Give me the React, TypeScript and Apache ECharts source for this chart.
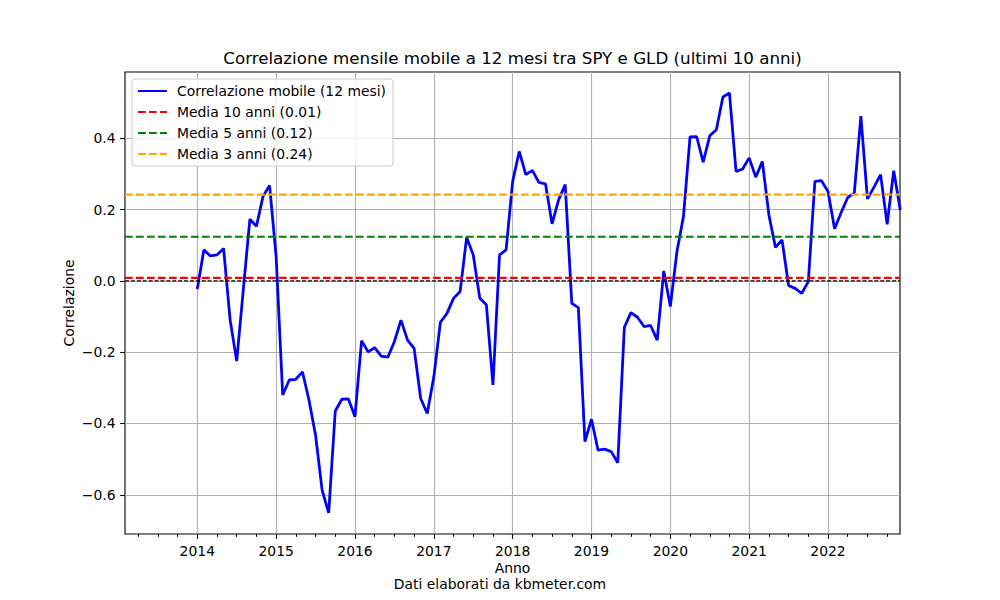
import React, { useEffect, useRef } from "react";
import * as echarts from "echarts";

const FONT = "DejaVu Sans";

// Rolling 12-month correlation SPY/GLD, monthly from 2014-01 (month index 0)
const START_YEAR = 2014;
const corr = [
  -0.023, 0.087, 0.070, 0.073, 0.091, -0.110, -0.225, -0.025, 0.173, 0.153, 0.237, 0.268,
  0.068, -0.320, -0.278, -0.276, -0.255, -0.334, -0.433, -0.587, -0.651, -0.365, -0.332, -0.331,
  -0.381, -0.168, -0.199, -0.187, -0.211, -0.214, -0.170, -0.110, -0.166, -0.189, -0.330, -0.372,
  -0.269, -0.116, -0.091, -0.049, -0.030, 0.122, 0.073, -0.049, -0.067, -0.292, 0.073, 0.087,
  0.279, 0.363, 0.298, 0.310, 0.276, 0.272, 0.160, 0.228, 0.270, -0.063, -0.075, -0.451,
  -0.388, -0.475, -0.472, -0.479, -0.510, -0.130, -0.089, -0.102, -0.128, -0.125, -0.166, 0.028,
  -0.072, 0.082, 0.181, 0.404, 0.405, 0.333, 0.407, 0.424, 0.516, 0.527, 0.307, 0.314,
  0.345, 0.291, 0.335, 0.185, 0.094, 0.115, -0.013, -0.021, -0.035, -0.002, 0.279, 0.281,
  0.251, 0.146, 0.192, 0.234, 0.246, 0.462, 0.230, 0.263, 0.298, 0.159, 0.309, 0.199,
];

const mean10 = 0.0085;
const mean5 = 0.124;
const mean3 = 0.242;

const seriesNames = [
  "Correlazione mobile (12 mesi)",
  "Media 10 anni (0.01)",
  "Media 5 anni (0.12)",
  "Media 3 anni (0.24)",
];

const yearTicks = [2014, 2015, 2016, 2017, 2018, 2019, 2020, 2021, 2022];
const quarterTicks = [
  2013.25, 2013.5, 2013.75,
  2014.25, 2014.5, 2014.75,
  2015.25, 2015.5, 2015.75,
  2016.25, 2016.5, 2016.75,
  2017.25, 2017.5, 2017.75,
  2018.25, 2018.5, 2018.75,
  2019.25, 2019.5, 2019.75,
  2020.25, 2020.5, 2020.75,
  2021.25, 2021.5, 2021.75,
  2022.25, 2022.5, 2022.75,
];
const yTicks = [-0.6, -0.4, -0.2, 0.0, 0.2, 0.4];

const X_MIN = 2013.083;
const X_MAX = 2022.913;
const Y_MIN = -0.71;
const Y_MAX = 0.586;

function fmtY(v: number): string {
  const s = Math.abs(v).toFixed(1);
  return v < -1e-9 ? "\u2212" + s : s;
}

export default function App() {
  const ref = useRef<HTMLDivElement>(null);

  useEffect(() => {
    if (!ref.current) return;
    const chart = echarts.init(ref.current, undefined, { renderer: "svg" });

    const lineData = corr.map((v, i) => [START_YEAR + i / 12, v]);
    const hline = (v: number) => [
      [X_MIN, v],
      [X_MAX, v],
    ];

    const tickLine = { color: "#000", width: 1.1 };
    const labelStyle = { color: "#000", fontSize: 13.9, fontFamily: FONT };

    const option: any = {
      animation: false,
      grid: {
        left: 125,
        top: 72,
        width: 775,
        height: 462,
        show: true,
        borderColor: "#000",
        borderWidth: 1.1,
        backgroundColor: "transparent",
      },
      legend: {
        data: seriesNames,
        orient: "vertical",
        left: 132,
        top: 79,
        itemWidth: 29,
        itemHeight: 14,
        itemGap: 7,
        padding: [5, 7, 5, 5],
        backgroundColor: "rgba(255,255,255,0.8)",
        borderColor: "#cccccc",
        borderWidth: 1,
        borderRadius: 3,
        itemStyle: { opacity: 0, borderWidth: 0 },
        textStyle: { color: "#000", fontSize: 13.9, fontFamily: FONT, padding: [0, 0, 0, 5] },
      },
      xAxis: [
        {
          type: "value",
          min: X_MIN,
          max: X_MAX,
          position: "bottom",
          axisLine: { show: false, onZero: false },
          axisTick: { show: true, length: 4.9, customValues: yearTicks, lineStyle: tickLine },
          axisLabel: {
            ...labelStyle,
            customValues: yearTicks,
            margin: 9.5,
            formatter: (v: number) => String(Math.round(v)),
          },
          splitLine: { show: true, lineStyle: { color: "#b0b0b0", width: 1.1 } },
        },
        {
          type: "value",
          min: X_MIN,
          max: X_MAX,
          position: "bottom",
          axisLine: { show: false, onZero: false },
          axisTick: { show: true, length: 2.8, customValues: quarterTicks, lineStyle: tickLine },
          axisLabel: { show: false },
          splitLine: { show: false },
        },
      ],
      yAxis: {
        type: "value",
        min: Y_MIN,
        max: Y_MAX,
        position: "left",
        axisLine: { show: false, onZero: false },
        axisTick: { show: true, length: 4.9, customValues: yTicks, lineStyle: tickLine },
        axisLabel: { ...labelStyle, customValues: yTicks, margin: 9.5, formatter: fmtY },
        splitLine: { show: true, lineStyle: { color: "#b0b0b0", width: 1.1 } },
      },
      series: [
        {
          name: seriesNames[0],
          type: "line",
          data: lineData,
          symbol: "none",
          lineStyle: { color: "#0000ff", width: 2.78 },
          itemStyle: { color: "#0000ff" },
          z: 3,
        },
        {
          name: "",
          type: "line",
          data: hline(0),
          symbol: "none",
          lineStyle: { color: "#000000", width: 1.1, type: [4.1, 1.8] },
          itemStyle: { color: "#000000" },
          z: 3,
        },
        {
          name: seriesNames[1],
          type: "line",
          data: hline(mean10),
          symbol: "none",
          lineStyle: { color: "#ff0000", width: 2.08, type: [7.7, 3.3] },
          itemStyle: { color: "#ff0000" },
          z: 3,
        },
        {
          name: seriesNames[2],
          type: "line",
          data: hline(mean5),
          symbol: "none",
          lineStyle: { color: "#008000", width: 2.08, type: [7.7, 3.3] },
          itemStyle: { color: "#008000" },
          z: 3,
        },
        {
          name: seriesNames[3],
          type: "line",
          data: hline(mean3),
          symbol: "none",
          lineStyle: { color: "#ffa500", width: 2.08, type: [7.7, 3.3] },
          itemStyle: { color: "#ffa500" },
          z: 3,
        },
      ],
      graphic: [
        {
          type: "text",
          x: 512.5,
          y: 58,
          style: {
            text: "Correlazione mensile mobile a 12 mesi tra SPY e GLD (ultimi 10 anni)",
            fill: "#000",
            font: `16.7px "${FONT}"`,
            textAlign: "center",
            textVerticalAlign: "middle",
          },
        },
        {
          type: "text",
          x: 512.5,
          y: 567.5,
          style: {
            text: "Anno",
            fill: "#000",
            font: `13.9px "${FONT}"`,
            lineHeight: 11,
            textAlign: "center",
            textVerticalAlign: "middle",
          },
        },
        {
          type: "text",
          x: 500,
          y: 583.5,
          style: {
            text: "Dati elaborati da kbmeter.com",
            fill: "#000",
            font: `13.9px "${FONT}"`,
            lineHeight: 11,
            textAlign: "center",
            textVerticalAlign: "middle",
          },
        },
        {
          type: "text",
          x: 68.5,
          y: 303,
          rotation: Math.PI / 2,
          style: {
            text: "Correlazione",
            fill: "#000",
            font: `13.9px "${FONT}"`,
            textAlign: "center",
            textVerticalAlign: "middle",
          },
        },
      ],
    };

    chart.setOption(option);
    return () => chart.dispose();
  }, []);

  return (
    <div
      ref={ref}
      style={{ position: "absolute", left: 0, top: 0, width: 1000, height: 600, background: "#fff" }}
    />
  );
}
